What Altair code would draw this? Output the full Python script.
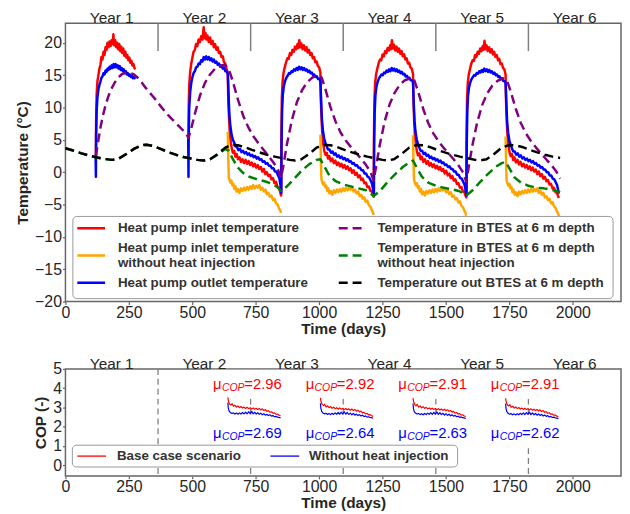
import altair as alt
import pandas as pd

FONT = "Liberation Sans"

# ---------------- data (days, value) ----------------
RED = [
    (120, 2.5), (121, 8.0), (123, 12.0), (126, 14.0), (130, 15.0), (134, 16.0), (138, 16.6), (142, 17.8), (146, 17.4),
    (150, 18.6), (154, 18.1), (158, 19.3), (162, 18.9), (166, 20.0), (170, 19.3), (174, 20.2), (178, 19.5), (182, 20.4),
    (186, 19.8), (189, 21.3), (192, 19.6), (196, 20.4), (200, 19.3), (204, 20.0), (208, 19.0), (212, 19.8), (216, 18.7),
    (220, 19.4), (224, 18.4), (228, 19.1), (232, 18.0), (236, 18.6), (240, 17.7), (244, 18.1), (248, 17.3), (252, 17.7),
    (256, 16.9), (260, 17.2), (264, 16.5), (268, 16.7), (272, 16.1), (276, 15.9),
    (485, 5.2), (486, 10.0), (488, 13.5), (492, 15.6), (496, 16.8), (500, 17.6), (505, 18.6), (510, 18.9), (515, 19.8),
    (520, 19.5), (525, 20.5), (530, 20.1), (535, 21.0), (540, 20.5), (545, 22.4), (548, 20.7), (552, 21.5), (556, 20.5),
    (560, 21.1), (565, 20.1), (570, 20.8), (575, 19.8), (580, 20.3), (585, 19.3), (590, 19.8), (595, 18.9), (600, 19.3),
    (605, 18.4), (610, 18.6), (615, 17.8), (620, 17.9), (625, 17.0), (630, 16.8), (635, 16.0), (640, 15.3),
    (642, 11.0), (645, 8.3), (648, 6.0), (652, 4.6), (656, 3.6), (660, 3.0), (665, 3.3), (670, 2.4), (675, 2.8),
    (680, 2.0), (686, 2.3), (692, 1.6), (698, 2.0), (704, 1.4), (710, 1.9), (716, 1.3), (722, 1.7), (728, 1.1),
    (734, 1.5), (740, 0.9), (746, 1.3), (752, 0.7), (758, 1.1), (764, 0.5), (770, 0.8), (776, 0.1), (782, 0.5),
    (788, -0.3), (794, 0.0), (800, -0.6), (806, -0.4), (812, -1.1), (818, -0.9), (824, -1.7), (830, -1.5), (836, -2.3),
    (842, -2.4), (846, -3.0), (850, -3.6),
    (851, 5.0), (853, 11.5), (856, 14.0), (860, 15.4), (865, 16.3), (870, 17.0), (875, 17.6), (880, 17.5), (885, 18.4),
    (890, 18.1), (895, 18.9), (900, 18.6), (905, 19.4), (910, 19.0), (915, 19.8), (918, 19.2), (922, 20.4), (926, 19.3),
    (930, 19.9), (935, 19.0), (940, 19.6), (945, 18.8), (950, 19.3), (955, 18.5), (960, 18.9), (965, 18.1), (970, 18.4),
    (975, 17.6), (980, 17.8), (985, 17.0), (990, 17.1), (995, 16.4), (1000, 16.2), (1005, 15.4),
    (1007, 11.0), (1010, 7.8), (1013, 5.6), (1017, 4.2), (1021, 3.2), (1025, 2.7), (1030, 3.0), (1035, 2.1), (1040, 2.5),
    (1046, 1.7), (1052, 2.1), (1058, 1.4), (1064, 1.8), (1070, 1.1), (1076, 1.5), (1082, 0.9), (1088, 1.3), (1094, 0.7),
    (1100, 1.1), (1106, 0.5), (1112, 0.9), (1118, 0.3), (1124, 0.6), (1130, -0.1), (1136, 0.3), (1142, -0.4), (1148, -0.1),
    (1154, -0.8), (1160, -0.5), (1166, -1.2), (1172, -1.0), (1178, -1.7), (1184, -1.6), (1190, -2.3), (1196, -2.2),
    (1202, -2.9), (1207, -2.9), (1211, -3.4), (1215, -3.8),
    (1216, 5.0), (1218, 11.3), (1221, 13.9), (1225, 15.2), (1230, 16.1), (1235, 16.9), (1240, 17.4), (1245, 17.3),
    (1250, 18.2), (1255, 17.9), (1260, 18.7), (1265, 18.4), (1270, 19.2), (1275, 18.8), (1280, 19.6), (1283, 19.0),
    (1287, 20.4), (1291, 19.1), (1295, 19.7), (1300, 18.8), (1305, 19.4), (1310, 18.6), (1315, 19.1), (1320, 18.3),
    (1325, 18.7), (1330, 17.9), (1335, 18.2), (1340, 17.4), (1345, 17.6), (1350, 16.8), (1355, 16.9), (1360, 16.2),
    (1365, 16.0), (1370, 15.2),
    (1372, 10.8), (1375, 7.6), (1378, 5.5), (1382, 4.1), (1386, 3.1), (1390, 2.6), (1395, 2.9), (1400, 2.0), (1405, 2.4),
    (1411, 1.6), (1417, 2.0), (1423, 1.3), (1429, 1.7), (1435, 1.0), (1441, 1.4), (1447, 0.8), (1453, 1.2), (1459, 0.6),
    (1465, 1.0), (1471, 0.4), (1477, 0.8), (1483, 0.2), (1489, 0.5), (1495, -0.2), (1501, 0.2), (1507, -0.5),
    (1513, -0.2), (1519, -0.9), (1525, -0.6), (1531, -1.3), (1537, -1.1), (1543, -1.8), (1549, -1.7), (1555, -2.4),
    (1561, -2.3), (1567, -3.0), (1572, -3.0), (1576, -3.5), (1580, -3.9),
    (1581, 5.0), (1583, 11.2), (1586, 13.8), (1590, 15.1), (1595, 16.0), (1600, 16.8), (1605, 17.3), (1610, 17.2),
    (1615, 18.1), (1620, 17.8), (1625, 18.6), (1630, 18.3), (1635, 19.1), (1640, 18.7), (1645, 19.5), (1648, 18.9),
    (1652, 20.3), (1656, 19.0), (1660, 19.6), (1665, 18.7), (1670, 19.3), (1675, 18.5), (1680, 19.0), (1685, 18.2),
    (1690, 18.6), (1695, 17.8), (1700, 18.1), (1705, 17.3), (1710, 17.5), (1715, 16.7), (1720, 16.8), (1725, 16.1),
    (1730, 15.9), (1735, 15.1),
    (1737, 10.7), (1740, 7.5), (1743, 5.4), (1747, 4.0), (1751, 3.0), (1755, 2.5), (1760, 2.8), (1765, 1.9), (1770, 2.3),
    (1776, 1.5), (1782, 1.9), (1788, 1.2), (1794, 1.6), (1800, 0.9), (1806, 1.3), (1812, 0.7), (1818, 1.1), (1824, 0.5),
    (1830, 0.9), (1836, 0.3), (1842, 0.7), (1848, 0.1), (1854, 0.4), (1860, -0.3), (1866, 0.1), (1872, -0.6),
    (1878, -0.3), (1884, -1.0), (1890, -0.7), (1896, -1.4), (1902, -1.2), (1908, -1.9), (1914, -1.8), (1920, -2.5),
    (1926, -2.4), (1932, -3.1), (1937, -3.1), (1941, -3.6), (1945, -4.0),
]

BLUE = [
    (119, 2.5), (120, -0.7), (121, 6.0), (123, 9.5), (126, 11.5), (130, 12.8), (134, 13.5), (138, 14.0), (142, 14.6),
    (146, 14.8), (150, 15.3), (154, 15.1), (158, 15.7), (162, 15.5), (166, 16.0), (170, 15.8), (174, 16.3), (178, 16.0),
    (182, 16.5), (186, 16.1), (190, 16.7), (194, 16.2), (198, 16.7), (202, 16.2), (206, 16.5), (210, 16.0), (214, 16.4),
    (218, 15.8), (222, 16.1), (226, 15.6), (230, 15.9), (234, 15.3), (238, 15.6), (242, 15.1), (246, 15.3), (250, 14.9),
    (254, 15.1), (258, 14.7), (262, 14.9), (266, 14.5), (270, 14.7), (276, 14.4),
    (484, 5.2), (485, -0.7), (486, 5.5), (488, 10.0), (492, 12.5), (496, 13.8), (500, 14.6), (505, 15.3), (510, 15.6),
    (515, 16.2), (520, 16.3), (525, 16.8), (530, 16.7), (535, 17.3), (540, 17.1), (545, 17.8), (550, 17.4), (555, 17.9),
    (560, 17.4), (565, 17.8), (570, 17.3), (575, 17.6), (580, 17.1), (585, 17.4), (590, 16.9), (595, 17.1), (600, 16.6),
    (605, 16.8), (610, 16.3), (615, 16.5), (620, 16.0), (625, 16.2), (630, 15.6), (635, 15.6), (640, 15.2),
    (643, 12.0), (646, 9.0), (650, 7.2), (655, 5.8), (660, 5.0), (665, 4.6), (670, 4.0), (676, 3.9), (682, 3.4),
    (688, 3.6), (694, 3.1), (700, 3.3), (706, 2.9), (712, 3.1), (718, 2.7), (724, 2.9), (730, 2.5), (736, 2.7),
    (742, 2.3), (748, 2.5), (754, 2.1), (760, 2.3), (766, 1.9), (772, 2.0), (778, 1.6), (784, 1.7), (790, 1.3),
    (796, 1.4), (802, 1.0), (808, 1.0), (814, 0.6), (820, 0.6), (826, 0.1), (832, 0.1), (838, -0.5), (843, -0.9),
    (847, -1.8), (850, -2.8),
    (851, -3.2), (852, 4.5), (854, 9.5), (857, 12.0), (861, 13.3), (866, 14.1), (871, 14.6), (876, 14.9), (881, 15.3),
    (886, 15.2), (891, 15.6), (896, 15.5), (901, 15.9), (906, 15.7), (911, 16.1), (916, 15.8), (921, 16.3), (926, 15.9),
    (931, 16.2), (936, 15.8), (941, 16.1), (946, 15.7), (951, 15.9), (956, 15.5), (961, 15.7), (966, 15.3), (971, 15.4),
    (976, 15.0), (981, 15.1), (986, 14.7), (991, 14.8), (996, 14.4), (1001, 14.4), (1005, 14.0),
    (1008, 11.0), (1011, 8.2), (1015, 6.4), (1020, 5.2), (1025, 4.5), (1030, 4.0), (1035, 3.5), (1041, 3.5), (1047, 3.0),
    (1053, 3.2), (1059, 2.7), (1065, 2.9), (1071, 2.4), (1077, 2.6), (1083, 2.2), (1089, 2.4), (1095, 2.0), (1101, 2.2),
    (1107, 1.8), (1113, 2.0), (1119, 1.6), (1125, 1.7), (1131, 1.3), (1137, 1.4), (1143, 1.0), (1149, 1.1), (1155, 0.7),
    (1161, 0.7), (1167, 0.3), (1173, 0.3), (1179, -0.2), (1185, -0.2), (1191, -0.7), (1197, -0.8), (1203, -1.3),
    (1208, -1.7), (1212, -2.5), (1215, -3.2),
    (1216, -3.5), (1217, 4.4), (1219, 9.3), (1222, 11.9), (1226, 13.2), (1231, 14.0), (1236, 14.5), (1241, 14.8),
    (1246, 15.1), (1251, 15.0), (1256, 15.4), (1261, 15.3), (1266, 15.7), (1271, 15.5), (1276, 15.9), (1281, 15.6),
    (1286, 16.1), (1291, 15.7), (1296, 16.0), (1301, 15.6), (1306, 15.9), (1311, 15.5), (1316, 15.7), (1321, 15.3),
    (1326, 15.5), (1331, 15.1), (1336, 15.2), (1341, 14.8), (1346, 14.9), (1351, 14.5), (1356, 14.6), (1361, 14.2),
    (1366, 14.2), (1370, 13.9),
    (1373, 10.8), (1376, 8.0), (1380, 6.2), (1385, 5.0), (1390, 4.3), (1395, 3.8), (1400, 3.3), (1406, 3.3), (1412, 2.8),
    (1418, 3.0), (1424, 2.5), (1430, 2.7), (1436, 2.2), (1442, 2.4), (1448, 2.0), (1454, 2.2), (1460, 1.8), (1466, 2.0),
    (1472, 1.6), (1478, 1.8), (1484, 1.4), (1490, 1.5), (1496, 1.1), (1502, 1.2), (1508, 0.8), (1514, 0.9), (1520, 0.5),
    (1526, 0.5), (1532, 0.1), (1538, 0.1), (1544, -0.4), (1550, -0.4), (1556, -0.9), (1562, -1.0), (1568, -1.5),
    (1573, -1.9), (1577, -2.7), (1580, -3.4),
    (1581, -3.6), (1582, 4.3), (1584, 9.2), (1587, 11.8), (1591, 13.1), (1596, 13.9), (1601, 14.4), (1606, 14.7),
    (1611, 15.0), (1616, 14.9), (1621, 15.3), (1626, 15.2), (1631, 15.6), (1636, 15.4), (1641, 15.8), (1646, 15.5),
    (1651, 16.0), (1656, 15.6), (1661, 15.9), (1666, 15.5), (1671, 15.8), (1676, 15.4), (1681, 15.6), (1686, 15.2),
    (1691, 15.4), (1696, 15.0), (1701, 15.1), (1706, 14.7), (1711, 14.8), (1716, 14.4), (1721, 14.5), (1726, 14.1),
    (1731, 14.1), (1735, 13.8),
    (1738, 10.7), (1741, 7.9), (1745, 6.1), (1750, 4.9), (1755, 4.2), (1760, 3.7), (1765, 3.2), (1771, 3.2), (1777, 2.7),
    (1783, 2.9), (1789, 2.4), (1795, 2.6), (1801, 2.1), (1807, 2.3), (1813, 1.9), (1819, 2.1), (1825, 1.7), (1831, 1.9),
    (1837, 1.5), (1843, 1.7), (1849, 1.3), (1855, 1.4), (1861, 1.0), (1867, 1.1), (1873, 0.7), (1879, 0.8), (1885, 0.4),
    (1891, 0.4), (1897, 0.0), (1903, 0.0), (1909, -0.5), (1915, -0.5), (1921, -1.0), (1927, -1.1), (1933, -1.6),
    (1938, -2.0), (1942, -2.7), (1945, -3.3),
]

ORANGE = [
    (640, 6.2), (642, 2.0), (644, -0.8), (647, -1.2), (650, -1.6), (654, -1.3), (658, -2.0), (662, -1.8), (666, -2.6),
    (670, -2.2), (675, -3.0), (680, -2.6), (686, -3.2), (692, -2.5), (698, -2.9), (704, -2.4), (710, -2.8), (716, -2.3),
    (722, -2.7), (728, -2.2), (734, -2.6), (740, -2.0), (746, -2.5), (752, -2.1), (758, -2.4), (764, -2.0), (770, -2.7),
    (776, -2.4), (782, -3.0), (788, -2.7), (794, -3.4), (800, -3.2), (806, -3.8), (812, -3.6), (818, -4.3), (824, -4.1),
    (830, -4.8), (836, -5.0), (842, -5.6), (847, -5.9), (850, -6.3),
    (1005, 5.8), (1007, 1.8), (1009, -1.0), (1012, -1.5), (1016, -1.9), (1020, -1.6), (1024, -2.3), (1028, -2.1),
    (1032, -2.9), (1036, -2.5), (1041, -3.3), (1046, -2.9), (1052, -3.5), (1058, -2.8), (1064, -3.2), (1070, -2.7),
    (1076, -3.1), (1082, -2.6), (1088, -3.0), (1094, -2.5), (1100, -2.9), (1106, -2.4), (1112, -2.8), (1118, -2.4),
    (1124, -2.7), (1130, -2.3), (1136, -3.0), (1142, -2.7), (1148, -3.3), (1154, -3.0), (1160, -3.7), (1166, -3.5),
    (1172, -4.1), (1178, -3.9), (1184, -4.6), (1190, -4.4), (1196, -5.1), (1202, -5.3), (1208, -5.9), (1212, -6.2),
    (1215, -6.6),
    (1370, 5.7), (1372, 1.7), (1374, -1.1), (1377, -1.6), (1381, -2.0), (1385, -1.7), (1389, -2.4), (1393, -2.2),
    (1397, -3.0), (1401, -2.6), (1406, -3.4), (1411, -3.0), (1417, -3.6), (1423, -2.9), (1429, -3.3), (1435, -2.8),
    (1441, -3.2), (1447, -2.7), (1453, -3.1), (1459, -2.6), (1465, -3.0), (1471, -2.5), (1477, -2.9), (1483, -2.5),
    (1489, -2.8), (1495, -2.4), (1501, -3.1), (1507, -2.8), (1513, -3.4), (1519, -3.1), (1525, -3.8), (1531, -3.6),
    (1537, -4.2), (1543, -4.0), (1549, -4.7), (1555, -4.5), (1561, -5.2), (1567, -5.4), (1573, -6.0), (1577, -6.3),
    (1580, -6.7),
    (1735, 5.5), (1737, 1.6), (1739, -1.2), (1742, -1.7), (1746, -2.1), (1750, -1.8), (1754, -2.5), (1758, -2.3),
    (1762, -3.1), (1766, -2.7), (1771, -3.5), (1776, -3.1), (1782, -3.7), (1788, -3.0), (1794, -3.4), (1800, -2.9),
    (1806, -3.3), (1812, -2.8), (1818, -3.2), (1824, -2.7), (1830, -3.1), (1836, -2.6), (1842, -3.0), (1848, -2.6),
    (1854, -2.9), (1860, -2.5), (1866, -3.2), (1872, -2.9), (1878, -3.5), (1884, -3.2), (1890, -3.9), (1896, -3.7),
    (1902, -4.3), (1908, -4.1), (1914, -4.8), (1920, -4.6), (1926, -5.3), (1932, -5.5), (1938, -6.1), (1942, -6.4),
    (1945, -6.8),
]

PURPLE = [
    (120, 2.5), (130, 5.0), (140, 7.3), (150, 9.1), (160, 10.6), (170, 11.8), (180, 12.8), (195, 13.9), (210, 14.7),
    (225, 15.2), (240, 15.4), (255, 15.35), (270, 15.1), (285, 14.6), (300, 13.9), (315, 13.1), (330, 12.4), (345, 11.7),
    (360, 11.0), (375, 10.2), (390, 9.5), (405, 8.8), (420, 8.2), (435, 7.6), (450, 7.0), (465, 6.4), (478, 5.8),
    (485, 5.3), (495, 6.6), (510, 9.0), (530, 11.8), (550, 13.8), (570, 15.1), (590, 16.0), (610, 16.4), (628, 16.6),
    (645, 15.8), (660, 14.0), (680, 11.2), (700, 8.8), (720, 7.0), (740, 5.6), (760, 4.5), (780, 3.5), (800, 2.5),
    (820, 1.5), (838, 0.4), (850, -0.9), (860, 1.2), (873, 4.3), (893, 8.1), (913, 10.9), (933, 12.7), (953, 13.9),
    (973, 14.6), (995, 15.0), (1010, 14.6), (1025, 12.8), (1045, 10.0), (1065, 7.8), (1085, 6.1), (1105, 4.9),
    (1125, 3.9), (1145, 3.0), (1165, 2.1), (1185, 1.1), (1203, 0.0), (1215, -1.3), (1225, 1.0), (1238, 4.0), (1258, 7.8),
    (1278, 10.5), (1298, 12.3), (1318, 13.5), (1338, 14.2), (1360, 14.5), (1375, 14.2), (1390, 12.5), (1410, 9.8),
    (1430, 7.6), (1450, 6.0), (1470, 4.8), (1490, 3.8), (1510, 2.9), (1530, 2.0), (1550, 1.0), (1568, -0.1),
    (1580, -1.5), (1590, 0.9), (1603, 3.9), (1623, 7.7), (1643, 10.4), (1663, 12.2), (1683, 13.4), (1703, 14.1),
    (1725, 14.5), (1740, 14.2), (1755, 12.5), (1775, 9.8), (1795, 7.6), (1815, 6.0), (1835, 4.8), (1855, 3.8),
    (1875, 2.9), (1895, 2.0), (1915, 1.1), (1935, 0.1), (1950, -1.0),
]

GREEN = [
    (0, 3.7), (30, 3.35), (60, 2.95), (90, 2.6), (120, 2.3), (150, 2.05), (185, 1.9), (210, 2.1), (240, 2.8), (270, 3.6),
    (300, 4.15), (320, 4.25), (345, 4.05), (375, 3.6), (405, 3.1), (435, 2.7), (465, 2.35), (495, 2.1), (520, 1.9),
    (545, 1.8), (570, 2.0), (600, 2.7), (630, 3.6), (645, 3.3), (660, 2.0), (680, 0.7), (700, -0.1), (725, -0.7),
    (755, -1.1), (785, -1.4), (815, -1.8), (835, -2.3), (850, -2.9), (870, -2.3), (900, -1.1), (930, 0.2), (960, 1.2),
    (990, 1.9), (1005, 2.0), (1020, 0.9), (1040, -0.5), (1065, -1.4), (1095, -1.9), (1125, -2.2), (1155, -2.5),
    (1185, -2.8), (1200, -3.2), (1215, -3.7), (1240, -2.9), (1270, -1.5), (1300, -0.3), (1330, 0.8), (1355, 1.5),
    (1370, 1.8), (1385, 0.7), (1405, -0.7), (1430, -1.6), (1460, -2.1), (1490, -2.4), (1520, -2.6), (1550, -2.9),
    (1565, -3.2), (1580, -3.6), (1605, -2.8), (1635, -1.5), (1665, -0.3), (1695, 0.8), (1720, 1.4), (1735, 1.6),
    (1750, 0.6), (1770, -0.8), (1795, -1.6), (1825, -2.1), (1855, -2.4), (1885, -2.5), (1915, -2.7), (1935, -2.9),
    (1950, -3.1),
]

BLACK = [
    (0, 3.7), (30, 3.35), (60, 2.95), (90, 2.6), (120, 2.3), (150, 2.05), (185, 1.9), (210, 2.1), (240, 2.8), (270, 3.6),
    (300, 4.15), (320, 4.25), (345, 4.05), (375, 3.6), (405, 3.1), (435, 2.7), (465, 2.35), (495, 2.1), (520, 1.9),
    (545, 1.8), (570, 2.0), (600, 2.8), (630, 3.8), (655, 4.2), (680, 4.15), (705, 3.9), (735, 3.45), (765, 3.05),
    (795, 2.7), (825, 2.4), (855, 2.15), (885, 1.9), (905, 1.8), (930, 2.0), (960, 2.8), (990, 3.8), (1020, 4.2),
    (1045, 4.15), (1070, 3.9), (1100, 3.45), (1130, 3.05), (1160, 2.7), (1190, 2.4), (1220, 2.15), (1250, 1.9),
    (1270, 1.8), (1295, 2.0), (1325, 2.8), (1355, 3.8), (1385, 4.2), (1410, 4.15), (1435, 3.9), (1465, 3.45),
    (1495, 3.05), (1525, 2.7), (1555, 2.4), (1585, 2.15), (1615, 1.9), (1635, 1.8), (1660, 2.0), (1690, 2.8),
    (1720, 3.8), (1750, 4.2), (1775, 4.15), (1800, 3.9), (1830, 3.45), (1860, 3.05), (1890, 2.7), (1920, 2.4),
    (1950, 2.2),
]

COP_BASE = [
    (640, 3.52), (643, 3.30), (647, 3.18), (652, 3.12), (657, 3.20), (662, 3.06), (668, 3.12), (674, 3.02), (680, 3.08),
    (686, 2.99), (692, 3.05), (698, 2.97), (704, 3.02), (710, 2.95), (716, 3.01), (722, 2.94), (728, 2.99), (734, 2.92),
    (740, 2.98), (746, 2.91), (752, 2.96), (758, 2.89), (764, 2.95), (770, 2.87), (776, 2.93), (782, 2.84), (788, 2.89),
    (794, 2.80), (800, 2.84), (806, 2.75), (812, 2.78), (818, 2.70), (824, 2.72), (830, 2.65), (836, 2.66), (842, 2.60),
    (848, 2.57),
    (1005, 3.50), (1008, 3.28), (1012, 3.16), (1017, 3.10), (1022, 3.17), (1027, 3.03), (1033, 3.09), (1039, 2.99),
    (1045, 3.05), (1051, 2.96), (1057, 3.02), (1063, 2.94), (1069, 2.99), (1075, 2.92), (1081, 2.98), (1087, 2.91),
    (1093, 2.96), (1099, 2.89), (1105, 2.95), (1111, 2.88), (1117, 2.93), (1123, 2.86), (1129, 2.92), (1135, 2.84),
    (1141, 2.90), (1147, 2.81), (1153, 2.86), (1159, 2.77), (1165, 2.81), (1171, 2.72), (1177, 2.75), (1183, 2.67),
    (1189, 2.69), (1195, 2.62), (1201, 2.63), (1207, 2.57), (1213, 2.54),
    (1370, 3.49), (1373, 3.27), (1377, 3.15), (1382, 3.09), (1387, 3.16), (1392, 3.02), (1398, 3.08), (1404, 2.98),
    (1410, 3.04), (1416, 2.95), (1422, 3.01), (1428, 2.93), (1434, 2.98), (1440, 2.91), (1446, 2.97), (1452, 2.90),
    (1458, 2.95), (1464, 2.88), (1470, 2.94), (1476, 2.87), (1482, 2.92), (1488, 2.85), (1494, 2.91), (1500, 2.83),
    (1506, 2.89), (1512, 2.80), (1518, 2.85), (1524, 2.76), (1530, 2.80), (1536, 2.71), (1542, 2.74), (1548, 2.66),
    (1554, 2.68), (1560, 2.61), (1566, 2.62), (1572, 2.56), (1578, 2.53),
    (1735, 3.48), (1738, 3.26), (1742, 3.14), (1747, 3.08), (1752, 3.15), (1757, 3.01), (1763, 3.07), (1769, 2.97),
    (1775, 3.03), (1781, 2.94), (1787, 3.00), (1793, 2.92), (1799, 2.97), (1805, 2.90), (1811, 2.96), (1817, 2.89),
    (1823, 2.94), (1829, 2.87), (1835, 2.93), (1841, 2.86), (1847, 2.91), (1853, 2.84), (1859, 2.90), (1865, 2.82),
    (1871, 2.88), (1877, 2.79), (1883, 2.84), (1889, 2.75), (1895, 2.79), (1901, 2.70), (1907, 2.73), (1913, 2.65),
    (1919, 2.67), (1925, 2.60), (1931, 2.61), (1937, 2.55), (1943, 2.52),
]

COP_NOHEAT = [
    (640, 3.25), (642, 2.98), (645, 2.82), (650, 2.74), (656, 2.69), (662, 2.72), (668, 2.66), (674, 2.71), (680, 2.65),
    (686, 2.72), (692, 2.66), (698, 2.74), (704, 2.67), (710, 2.76), (716, 2.67), (722, 2.78), (728, 2.68), (734, 2.80),
    (740, 2.67), (746, 2.76), (752, 2.66), (758, 2.73), (764, 2.64), (770, 2.71), (776, 2.62), (782, 2.68), (788, 2.60),
    (794, 2.65), (800, 2.58), (806, 2.62), (812, 2.55), (818, 2.58), (824, 2.52), (830, 2.54), (836, 2.50), (842, 2.49),
    (848, 2.46),
    (1005, 3.22), (1007, 2.95), (1010, 2.80), (1015, 2.72), (1021, 2.67), (1027, 2.70), (1033, 2.64), (1039, 2.69),
    (1045, 2.63), (1051, 2.70), (1057, 2.64), (1063, 2.72), (1069, 2.65), (1075, 2.74), (1081, 2.65), (1087, 2.76),
    (1093, 2.66), (1099, 2.78), (1105, 2.65), (1111, 2.74), (1117, 2.64), (1123, 2.71), (1129, 2.62), (1135, 2.69),
    (1141, 2.60), (1147, 2.66), (1153, 2.58), (1159, 2.63), (1165, 2.56), (1171, 2.60), (1177, 2.53), (1183, 2.56),
    (1189, 2.50), (1195, 2.52), (1201, 2.48), (1207, 2.47), (1213, 2.44),
    (1370, 3.21), (1372, 2.94), (1375, 2.79), (1380, 2.71), (1386, 2.66), (1392, 2.69), (1398, 2.63), (1404, 2.68),
    (1410, 2.62), (1416, 2.69), (1422, 2.63), (1428, 2.71), (1434, 2.64), (1440, 2.73), (1446, 2.64), (1452, 2.75),
    (1458, 2.65), (1464, 2.77), (1470, 2.64), (1476, 2.73), (1482, 2.63), (1488, 2.70), (1494, 2.61), (1500, 2.68),
    (1506, 2.59), (1512, 2.65), (1518, 2.57), (1524, 2.62), (1530, 2.55), (1536, 2.59), (1542, 2.52), (1548, 2.55),
    (1554, 2.49), (1560, 2.51), (1566, 2.47), (1572, 2.46), (1578, 2.43),
    (1735, 3.20), (1737, 2.93), (1740, 2.78), (1745, 2.70), (1751, 2.65), (1757, 2.68), (1763, 2.62), (1769, 2.67),
    (1775, 2.61), (1781, 2.68), (1787, 2.62), (1793, 2.70), (1799, 2.63), (1805, 2.72), (1811, 2.63), (1817, 2.74),
    (1823, 2.64), (1829, 2.76), (1835, 2.63), (1841, 2.72), (1847, 2.62), (1853, 2.69), (1859, 2.60), (1865, 2.67),
    (1871, 2.58), (1877, 2.64), (1883, 2.56), (1889, 2.61), (1895, 2.54), (1901, 2.58), (1907, 2.51), (1913, 2.54),
    (1919, 2.48), (1925, 2.50), (1931, 2.46), (1937, 2.45), (1943, 2.42),
]

YEAR_BOUNDS = [365, 730, 1095, 1460, 1825]
YEAR_MIDS = [182.5, 547.5, 912.5, 1277.5, 1642.5, 2007.5]
YEAR_LABELS = ["Year 1", "Year 2", "Year 3", "Year 4", "Year 5", "Year 6"]

MU_START = [582, 947, 1312, 1677]
MU_BASE = ["2.96", "2.92", "2.91", "2.91"]
MU_NOHEAT = ["2.69", "2.64", "2.63", "2.62"]

# series in plotting / legend (column-wise) order
TOP_KEYS = ["inlet", "inlet_noheat", "outlet", "btes", "btes_noheat", "out_btes"]
TOP_LABELS = [
    ["Heat pump inlet temperature"],
    ["Heat pump inlet temperature", "without heat injection"],
    ["Heat pump outlet temperature"],
    ["Temperature in BTES at 6 m depth"],
    ["Temperature in BTES at 6 m depth", "without heat injection"],
    ["Temperature out BTES at 6 m depth"],
]
TOP_COLORS = ["#ff0000", "#ffa500", "#0000ff", "#800080", "#008000", "#000000"]
TOP_DASH = [[1, 0], [1, 0], [1, 0], [9, 5], [9, 5], [9, 5]]
TOP_DATA = [RED, ORANGE, BLUE, PURPLE, GREEN, BLACK]

BOT_KEYS = ["base", "noheat"]
BOT_LABELS = ["Base case scenario", "Without heat injection"]
BOT_COLORS = ["#ff0000", "#0000ff"]


def rows(pairs, name):
    out, seg, prev = [], 0, None
    for d, v in pairs:
        if prev is not None and d - prev > 100:
            seg += 1
        out.append({"day": d, "val": v, "series": name, "seg": f"{name}#{seg}"})
        prev = d
    return out


top_df = pd.DataFrame([r for k, p in zip(TOP_KEYS, TOP_DATA) for r in rows(p, k)])
bot_df = pd.DataFrame(rows(COP_BASE, "base") + rows(COP_NOHEAT, "noheat"))
years_df = pd.DataFrame({"day": YEAR_MIDS, "label": YEAR_LABELS})
bounds_df = pd.DataFrame({"day": YEAR_BOUNDS})
dummy = pd.DataFrame({"k": [0]})

MU_LEVEL_BASE = 4.21
MU_LEVEL_NOHEAT = 1.66
mu_df = pd.DataFrame(
    [{"day": d, "lvl": MU_LEVEL_BASE, "txt": "=" + t, "kind": "base"} for d, t in zip(MU_START, MU_BASE)]
    + [{"day": d, "lvl": MU_LEVEL_NOHEAT, "txt": "=" + t, "kind": "noheat"} for d, t in zip(MU_START, MU_NOHEAT)]
)
mu_df["d0"] = mu_df["day"] - 12
mu_df["d1"] = mu_df["day"] + 300
mu_df["l0"] = mu_df["lvl"] - 0.75
mu_df["l1"] = mu_df["lvl"] + 0.75

W = 561
XSC = alt.Scale(domain=[0, 2190], nice=False, zero=False)
XAX = alt.Axis(values=list(range(0, 2001, 250)), format="d", title="Time (days)", labelPadding=0, titlePadding=1)


def xenc(field="day"):
    return alt.X(f"{field}:Q", scale=XSC, axis=XAX)


def legend_text(t, x, y):
    return alt.Chart(dummy).mark_text(
        text=t, align="left", baseline="middle", fontSize=13.5, fontWeight="bold", color="#333333", font=FONT
    ).encode(x=alt.value(x), y=alt.value(y))


# ---------------- top panel ----------------
YSC_T = alt.Scale(domain=[-20, 23], nice=False, zero=False)
YAX_T = alt.Axis(values=list(range(-20, 21, 5)), title="Temperature (°C)", labelPadding=1, titlePadding=4)

top_lines = alt.Chart(top_df).mark_line(strokeWidth=2.5, strokeCap="butt", strokeJoin="round").encode(
    x=xenc(),
    y=alt.Y("val:Q", scale=YSC_T, axis=YAX_T),
    color=alt.Color("series:N", scale=alt.Scale(domain=TOP_KEYS, range=TOP_COLORS), legend=None),
    strokeDash=alt.StrokeDash("series:N", scale=alt.Scale(domain=TOP_KEYS, range=TOP_DASH), legend=None),
    detail="seg:N",
)
top_ticks = alt.Chart(bounds_df).mark_rule(color="#808080", strokeWidth=1.5).encode(
    x=xenc(), y=alt.value(0), y2=alt.value(28)
)
top_years = alt.Chart(years_df).mark_text(fontSize=15.5, baseline="alphabetic", color="#262626", font=FONT).encode(
    x=xenc(), y=alt.value(0), text="label:N"
)

# legend (matplotlib style, 2 columns filled column-wise)
LEG_SYM_X = [(12, 40), (276, 304)]
LEG_TXT_X = [53, 315]
LEG_ROW_Y = [207, 234.5, 262]
LEG_LINE_H = 15
top_leg = [alt.Chart(dummy).mark_rect(fill="white", stroke="#999999", strokeWidth=1, cornerRadius=4).encode(
    x=alt.value(7.5), x2=alt.value(553), y=alt.value(195), y2=alt.value(278))]
for i, (lines, colr, dash) in enumerate(zip(TOP_LABELS, TOP_COLORS, TOP_DASH)):
    c, r = divmod(i, 3)
    yc = LEG_ROW_Y[r]
    top_leg.append(alt.Chart(dummy).mark_rule(color=colr, strokeDash=dash, strokeWidth=2.5, strokeCap="butt").encode(
        x=alt.value(LEG_SYM_X[c][0]), x2=alt.value(LEG_SYM_X[c][1]), y=alt.value(yc)))
    for k, t in enumerate(lines):
        top_leg.append(legend_text(t, LEG_TXT_X[c], yc + (k - (len(lines) - 1) / 2) * LEG_LINE_H))

top = alt.layer(top_ticks, top_lines, top_years, *top_leg).properties(width=W, height=281)

# ---------------- bottom panel ----------------
YSC_B = alt.Scale(domain=[-0.55, 5], nice=False, zero=False)
YAX_B = alt.Axis(values=[0, 1, 2, 3, 4, 5], title="COP (-)", labelPadding=1, titlePadding=4)

bot_rules = alt.Chart(bounds_df).mark_rule(color="#808080", strokeWidth=1.3, strokeDash=[6, 4]).encode(
    x=xenc(), y=alt.value(0), y2=alt.value(108)
)
mu_boxes = alt.Chart(mu_df).mark_rect(color="white").encode(
    x=xenc("d0"), x2="d1:Q", y=alt.Y("l0:Q", scale=YSC_B, axis=YAX_B), y2="l1:Q"
)
bot_color = alt.Color("series:N", scale=alt.Scale(domain=BOT_KEYS, range=BOT_COLORS), legend=None)
bot_lines = alt.Chart(bot_df).mark_line(strokeWidth=1.2, strokeJoin="round").encode(
    x=xenc(),
    y=alt.Y("val:Q", scale=YSC_B, axis=YAX_B),
    color=bot_color,
    detail="seg:N",
)
mu_a = alt.Chart(mu_df).mark_text(text="μ", fontSize=15, align="left", baseline="middle", font=FONT).encode(
    x=xenc(), y=alt.Y("lvl:Q", scale=YSC_B, axis=YAX_B), color=alt.Color("kind:N", scale=alt.Scale(domain=BOT_KEYS, range=BOT_COLORS), legend=None)
)
mu_b = alt.Chart(mu_df).mark_text(text="COP", fontSize=10.5, fontStyle="italic", align="left", baseline="middle",
                                  dx=9, dy=4, font=FONT).encode(
    x=xenc(), y=alt.Y("lvl:Q", scale=YSC_B, axis=YAX_B), color=alt.Color("kind:N", scale=alt.Scale(domain=BOT_KEYS, range=BOT_COLORS), legend=None)
)
mu_c = alt.Chart(mu_df).mark_text(fontSize=15, align="left", baseline="middle", dx=31.5, font=FONT).encode(
    x=xenc(), y=alt.Y("lvl:Q", scale=YSC_B, axis=YAX_B), text="txt:N",
    color=alt.Color("kind:N", scale=alt.Scale(domain=BOT_KEYS, range=BOT_COLORS), legend=None)
)
bot_years = alt.Chart(years_df).mark_text(fontSize=15.5, baseline="alphabetic", color="#262626", font=FONT).encode(
    x=xenc(), y=alt.value(0), text="label:N"
)

BLEG_SYM_X = [(12, 41), (207, 236)]
BLEG_TXT_X = [52, 246]
BLEG_Y = 88
bot_leg = [alt.Chart(dummy).mark_rect(fill="white", stroke="#999999", strokeWidth=1, cornerRadius=4).encode(
    x=alt.value(7), x2=alt.value(396), y=alt.value(77), y2=alt.value(99))]
for i, (lab, colr) in enumerate(zip(BOT_LABELS, BOT_COLORS)):
    bot_leg.append(alt.Chart(dummy).mark_rule(color=colr, strokeWidth=1.3).encode(
        x=alt.value(BLEG_SYM_X[i][0]), x2=alt.value(BLEG_SYM_X[i][1]), y=alt.value(BLEG_Y)))
    bot_leg.append(legend_text(lab, BLEG_TXT_X[i], BLEG_Y))

bottom = alt.layer(bot_rules, mu_boxes, bot_lines, mu_a, mu_b, mu_c, bot_years, *bot_leg).properties(
    width=W, height=108
)

chart = alt.vconcat(top, bottom, spacing=18).resolve_scale(
    color="independent", strokeDash="independent"
).configure(
    font=FONT, padding={"left": 7, "top": 0, "right": 0, "bottom": 0}
).configure_view(
    stroke="#666666", strokeWidth=1.5
).configure_axis(
    labelFont=FONT, labelFontSize=16, labelColor="#262626",
    titleFont=FONT, titleFontSize=15.5, titleFontWeight="bold", titleColor="#262626",
    tickColor="#666666", tickSize=3, tickWidth=1.2, domain=False, grid=False,
    labelFlush=False, labelOverlap=False,
)

chart.save("out.html", embed_options={"renderer": "svg", "actions": False})
